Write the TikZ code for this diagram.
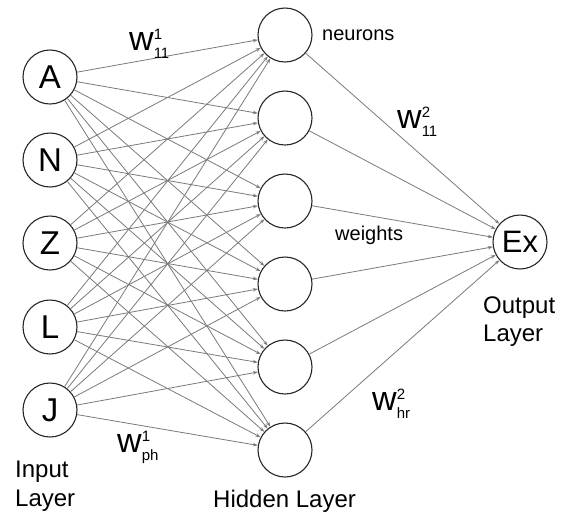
\documentclass[tikz,border=0pt]{standalone}
\usepackage{fontspec}
\setmainfont{Liberation Sans}
\usetikzlibrary{arrows.meta}
\tikzset{
  neuron/.style={circle,draw=black!85,line width=1.1pt,minimum size=54pt,inner sep=0pt,
    font=\fontsize{33}{33}\selectfont},
  link/.style={draw=black!52,line width=0.8pt,-{Stealth[length=5pt,width=3.5pt]}},
  lab/.style={font=\fontsize{20}{20}\selectfont,inner sep=0pt,anchor=base west},
  wl/.style={font=\fontsize{34}{34}\selectfont,inner sep=0pt,anchor=base west},
  layer/.style={font=\fontsize{24}{29}\selectfont,align=left,inner sep=0pt},
}
% weight label: w with a superscript (layer) and a subscript (indices)
\newcommand\wlab[2]{w\rlap{\raisebox{.32em}{\fontsize{15}{15}\selectfont#1}}%
  \raisebox{-.24em}{\fontsize{15}{15}\selectfont#2}}
\begin{document}
\begin{tikzpicture}[x=1pt,y=-1pt]
\useasboundingbox (0,0) rectangle (567,512);

% input layer
\node[neuron] (i1) at (50,77)  {A};
\node[neuron] (i2) at (50,160) {N};
\node[neuron] (i3) at (50,243) {Z};
\node[neuron] (i4) at (50,327) {L};
\node[neuron] (i5) at (50,410) {J};

% hidden layer
\foreach \j/\y in {1/35,2/118,3/201,4/284,5/367,6/450}
  \node[neuron] (h\j) at (285,\y) {};

% output layer
\node[neuron,font=\fontsize{31}{31}\selectfont] (o) at (520,242) {Ex};

% connections
\foreach \i in {1,...,5}
  \foreach \j in {1,...,6}
    \draw[link] (i\i) -- (h\j);
\foreach \j in {1,...,6}
  \draw[link] (h\j) -- (o);

% labels
\node[wl] (w1) at (129,50)  {\wlab{1}{11}};
\node[wl] (w2) at (397,128) {\wlab{2}{11}};
\node[wl] (w3) at (372,410) {\wlab{2}{hr}};
\node[wl] (w4) at (117,452) {\wlab{1}{ph}};
\node[lab] (nl) at (322,40)  {neurons};
\node[lab] (wt) at (335,240) {weights};

\node[layer,anchor=north west] (il) at (15,461)  {Input\\Layer};
\node[layer,anchor=base west]  (hl) at (213,507) {Hidden Layer};
\node[layer,anchor=north west,font=\fontsize{24}{28}\selectfont] (ol) at (483,297) {Output\\Layer};
\end{tikzpicture}
\end{document}
